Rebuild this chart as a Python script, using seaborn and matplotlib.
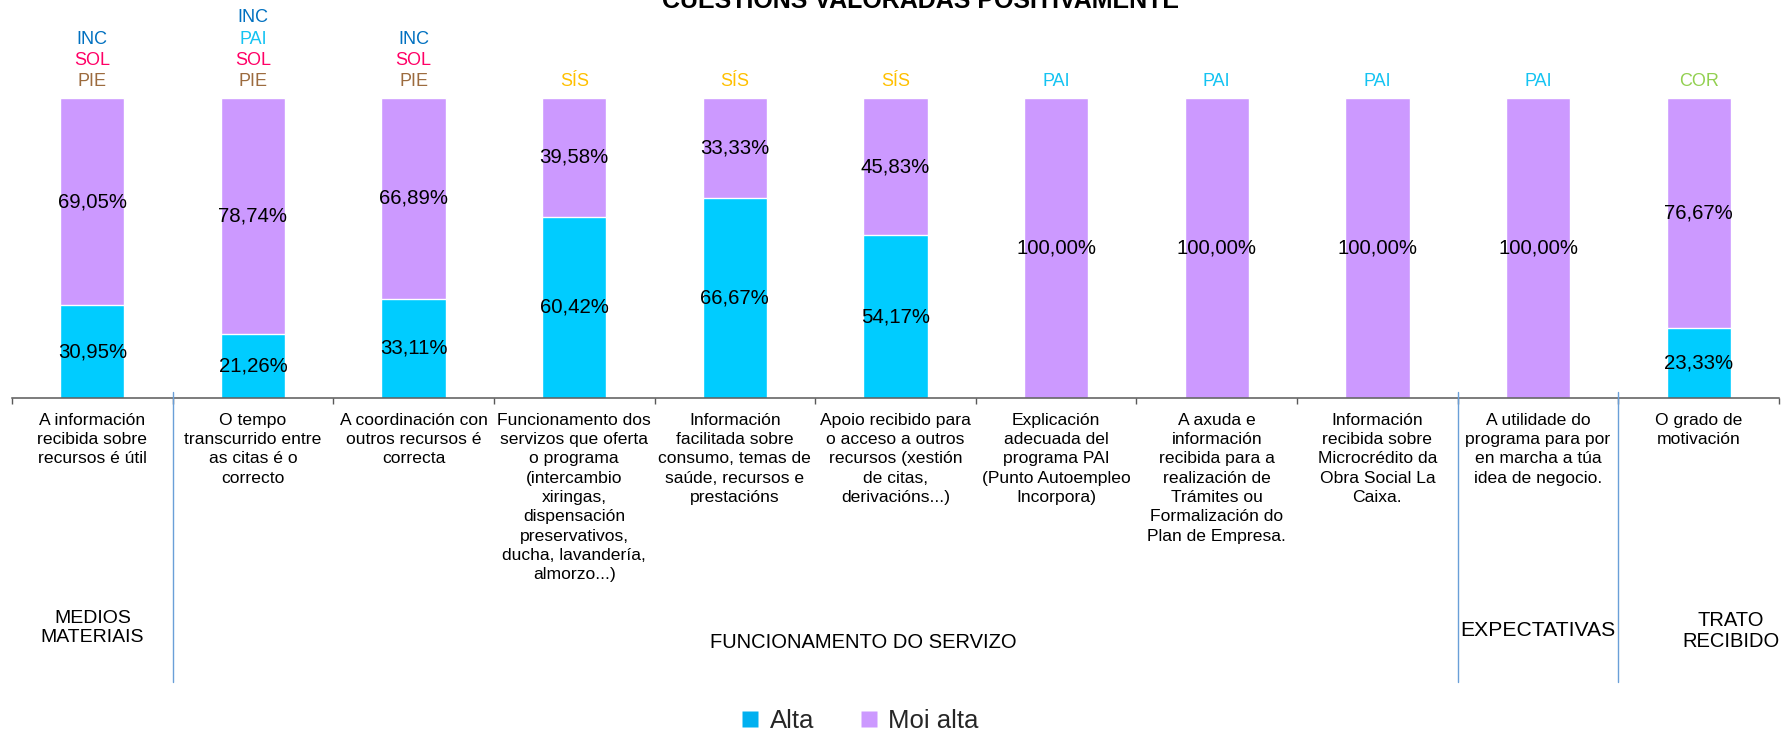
import numpy as np
import pandas as pd
import matplotlib
matplotlib.use("Agg")
import matplotlib.pyplot as plt
import seaborn as sns
from matplotlib.lines import Line2D
from matplotlib.transforms import blended_transform_factory

# ---------------- data ----------------
title = "CUESTIONS VALORADAS POSITIVAMENTE"
series_names = ["Alta", "Moi alta"]
categories = [
    "A información\nrecibida sobre\nrecursos é útil",
    "O tempo\ntranscurrido entre\nas citas é o\ncorrecto",
    "A coordinación con\noutros recursos é\ncorrecta",
    "Funcionamento dos\nservizos que oferta\no programa\n(intercambio\nxiringas,\ndispensación\npreservativos,\nducha, lavandería,\nalmorzo...)",
    "Información\nfacilitada sobre\nconsumo, temas de\nsaúde, recursos e\nprestacións",
    "Apoio recibido para\no acceso a outros\nrecursos (xestión\nde citas,\nderivacións...)",
    "Explicación\nadecuada del\nprograma PAI\n(Punto Autoempleo\nIncorpora)",
    "A axuda e\ninformación\nrecibida para a\nrealización de\nTrámites ou\nFormalización do\nPlan de Empresa.",
    "Información\nrecibida sobre\nMicrocrédito da\nObra Social La\nCaixa.",
    "A utilidade do\nprograma para por\nen marcha a túa\nidea de negocio.",
    "O grado de\nmotivación",
]
alta = [30.95, 21.26, 33.11, 60.42, 66.67, 54.17, 0, 0, 0, 0, 23.33]
moi_alta = [69.05, 78.74, 66.89, 39.58, 33.33, 45.83, 100, 100, 100, 100, 76.67]
tags = [
    ["INC", "SOL", "PIE"],
    ["INC", "PAI", "SOL", "PIE"],
    ["INC", "SOL", "PIE"],
    ["SÍS"], ["SÍS"], ["SÍS"],
    ["PAI"], ["PAI"], ["PAI"], ["PAI"],
    ["COR"],
]
tag_colors = {"INC": "#0070C0", "PAI": "#14C3F2", "SOL": "#FF0066",
              "PIE": "#9C6B3E", "SÍS": "#FFC000", "COR": "#92D050"}
groups = ["MEDIOS\nMATERIAIS", "FUNCIONAMENTO DO SERVIZO", "EXPECTATIVAS", "TRATO\nRECIBIDO"]
group_sizes = [1, 8, 1, 1]

# ---------------- style / layout ----------------
color_alta = "#00CCFF"
color_moi = "#CC99FF"
legend_colors = ["#00B0F0", "#CC99FF"]
group_dx = [0.0, 0.30, 0.0, 0.20]         # label shift (category units)
group_y_px = [628, 642, 631, 631]         # label centre (px from top)
group_fs = [14.0, 14.5, 15.2, 14.5]

sns.set_theme(style="white")
plt.rcParams["font.family"] = ["Liberation Sans", "DejaVu Sans"]

W, H = 1787, 729
fig = plt.figure(figsize=(W / 100, H / 100), dpi=100)
ax = fig.add_axes([12 / W, 1 - 398 / H, (1779 - 12) / W, 300 / H])

df = pd.DataFrame({"cat": categories, "alta": alta, "moi": moi_alta})
df["total"] = df["alta"] + df["moi"]

sns.barplot(data=df, x="cat", y="total", order=categories, color=color_moi,
            saturation=1, width=0.4, ax=ax)
sns.barplot(data=df, x="cat", y="alta", order=categories, color=color_alta,
            saturation=1, width=0.4, ax=ax)

n = len(categories)
ax.set_ylim(0, 100)
ax.set_xlim(-0.5, n - 0.5)
ax.set_xlabel("")
ax.set_ylabel("")
ax.set_yticks([])
ax.set_xticks(np.arange(n))
ax.set_xticklabels(categories, linespacing=1.36)
ax.set_xticks(np.arange(-0.5, n), minor=True)
ax.tick_params(axis="x", which="major", length=0, pad=10.5, labelsize=12.6,
               labelcolor="black")
ax.tick_params(axis="x", which="minor", bottom=True, length=4, width=1,
               color="#595959", direction="out")
for s in ["left", "right", "top"]:
    ax.spines[s].set_visible(False)
ax.spines["bottom"].set_color("#595959")
ax.spines["bottom"].set_linewidth(1.1)


def fmt(v):
    return f"{v:.2f}".replace(".", ",") + "%"


for i in range(n):
    if alta[i] > 0:
        ax.text(i, alta[i] / 2, fmt(alta[i]), ha="center", va="center",
                fontsize=14.7, color="black")
    if moi_alta[i] > 0:
        ax.text(i, alta[i] + moi_alta[i] / 2, fmt(moi_alta[i]), ha="center",
                va="center", fontsize=14.7, color="black")

# tags above bars
for i, tl in enumerate(tags):
    for k, tg in enumerate(reversed(tl)):
        ax.annotate(tg, xy=(i, 100), xytext=(0, 16 + 21.5 * k),
                    textcoords="offset pixels", ha="center", va="center",
                    fontsize=13, color=tag_colors[tg], annotation_clip=False)

# group separators & labels
trans = blended_transform_factory(ax.transData, fig.transFigure)
bounds = np.cumsum([0] + group_sizes) - 0.5
for b in bounds[1:-1]:
    fig.add_artist(Line2D([b, b], [1 - 392 / H, 1 - 682 / H], transform=trans,
                          color="#6A9FD8", lw=1))
for g, name in enumerate(groups):
    xc = (bounds[g] + bounds[g + 1]) / 2 + group_dx[g]
    ax.text(xc, 1 - group_y_px[g] / H, name, transform=trans, ha="center",
            va="center", fontsize=group_fs[g], color="black", linespacing=1.1)

# legend
handles = [Line2D([0], [0], marker="s", linestyle="none", markerfacecolor=c,
                  markeredgecolor="none", markersize=11.5) for c in legend_colors]
fig.legend(handles, series_names, loc="center", bbox_to_anchor=(860 / W, 1 - 721 / H),
           ncol=2, frameon=False, fontsize=18.5, handlelength=0.7,
           handletextpad=0.4, columnspacing=1.8)

fig.text(920 / W, 1 - 8 / H, title, ha="center", va="baseline", fontsize=18,
         fontweight="bold", color="black")

fig.savefig("out.png", dpi=100)
